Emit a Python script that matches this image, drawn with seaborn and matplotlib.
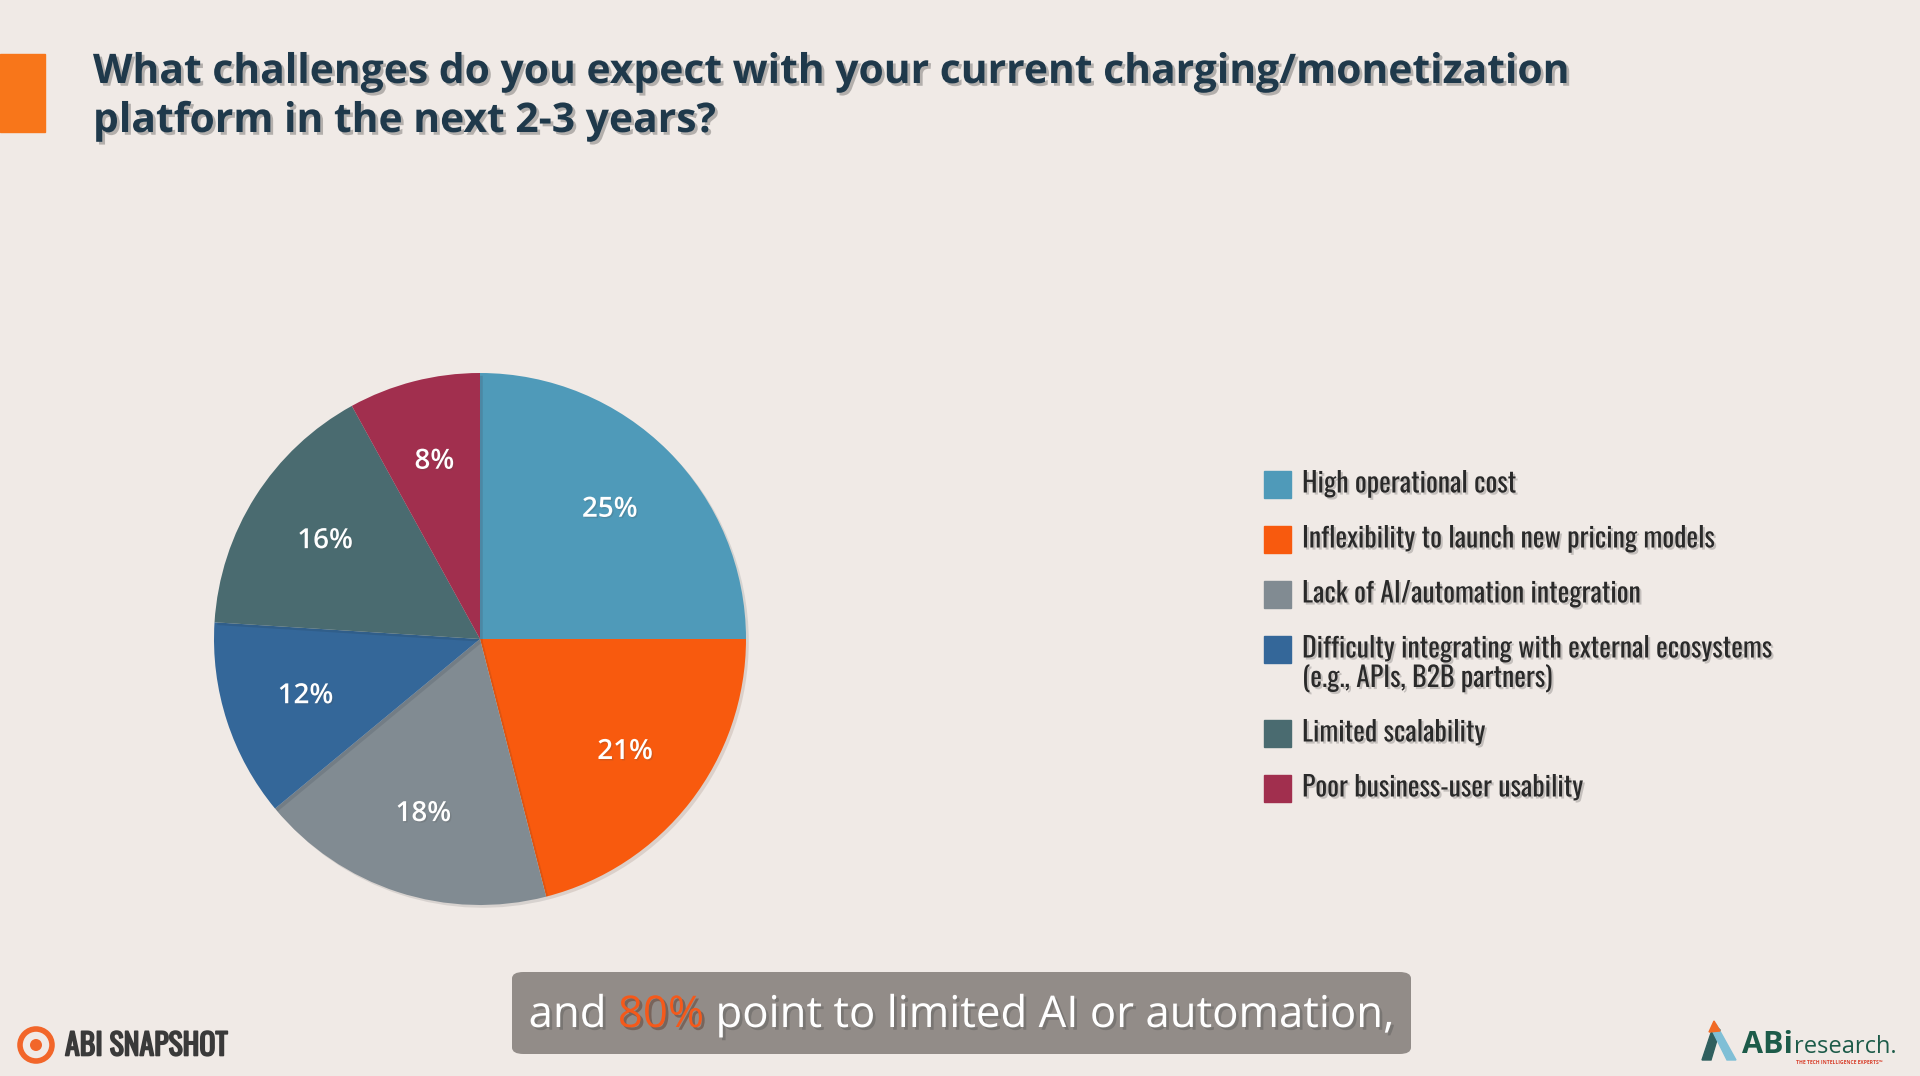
import matplotlib
matplotlib.use("Agg")
import matplotlib.pyplot as plt
import matplotlib.patches as mpatches
import matplotlib.patheffects as pe
import seaborn as sns

# survey answers (share of respondents, %)
categories = [
    "High operational cost",
    "Inflexibility to launch new pricing models",
    "Lack of AI/automation integration",
    "Difficulty integrating with external ecosystems\n(e.g., APIs, B2B partners)",
    "Limited scalability",
    "Poor business-user usability",
]
shares = [25, 21, 18, 12, 16, 8]
slice_colors = ["#4F9AB9", "#F85A0E", "#818B92", "#346799", "#4A6B70", "#A12F4E"]

title_lines = [
    "What challenges do you expect with your current charging/monetization",
    "platform in the next 2-3 years?",
]
caption_parts = ["and ", "80%", " point to limited AI or automation,"]

W, H = 1920, 1076
BG = "#F0EAE6"

sns.set_theme(style="white", rc={"figure.facecolor": BG, "axes.facecolor": BG})
plt.rcParams["font.family"] = ["Open Sans", "DejaVu Sans"]
palette = sns.color_palette(slice_colors)
COND = ["Oswald", "Open Sans", "DejaVu Sans"]


def fx(x):
    return x / W


def fy(y):
    return 1 - y / H


fig = plt.figure(figsize=(W / 100, H / 100), dpi=100)
fig.patch.set_facecolor(BG)

# orange marker left of the title
fig.patches.append(mpatches.Rectangle((0, fy(132)), fx(45), (132 - 54) / H,
                                      transform=fig.transFigure, color="#F8761A", zorder=2))

shadow = [pe.withSimplePatchShadow(offset=(2, -2), shadow_rgbFace="black", alpha=0.25)]
for i, line in enumerate(title_lines):
    fig.text(fx(93), fy(83 + 49 * i), line, fontsize=29.4, fontweight="bold",
             color="#1F394B", va="baseline", ha="left", path_effects=shadow)

# pie
cx, cy, r = 480, 639, 266
ax = fig.add_axes([fx(cx - r), fy(cy + r), 2 * r / W, 2 * r / H])
wedges, _, autotexts = ax.pie(
    shares, colors=palette, startangle=90, counterclock=False,
    autopct=lambda p: f"{p:.0f}%", pctdistance=0.69,
    wedgeprops={"linewidth": 0},
    textprops={"color": "white", "fontsize": 20, "fontweight": "semibold"},
)
for w in wedges:
    w.set_path_effects([pe.SimplePatchShadow(offset=(2, -2), alpha=0.12), pe.Normal()])
for t in autotexts:
    t.set_path_effects([pe.withSimplePatchShadow(offset=(1, -1), alpha=0.2)])
ax.set_xlim(-1, 1)
ax.set_ylim(-1, 1)
ax.set_axis_off()

# legend drawn as rows of squares + labels
y = 484
leg_shadow = [pe.withSimplePatchShadow(offset=(1.5, -1.5), shadow_rgbFace="black", alpha=0.18)]
for label, col in zip(categories, palette):
    fig.patches.append(mpatches.Rectangle((fx(1264), fy(y + 13.5)), fx(27), 27 / H,
                                          transform=fig.transFigure, color=col))
    lines = label.split("\n")
    for j, ln in enumerate(lines):
        fig.text(fx(1302), fy(y + 30 * j), ln, fontsize=20, color="#2A2A2A",
                 va="center", ha="left", family=COND, path_effects=leg_shadow)
    y += 55 + 29 * (len(lines) - 1)

# caption box
fig.patches.append(mpatches.FancyBboxPatch(
    (fx(512), fy(1054)), fx(1411 - 512), (1054 - 972) / H,
    boxstyle="round,pad=0,rounding_size=0.006", transform=fig.transFigure,
    facecolor="#8D8783", edgecolor="none", alpha=0.95, zorder=3))

renderer = fig.canvas.get_renderer()
cap_colors = ["white", "#F5591A", "white"]
cap_texts = []
for part, col in zip(caption_parts, cap_colors):
    t = fig.text(0, fy(1027), part, fontsize=31.5, color=col, va="baseline", ha="left",
                 zorder=4, path_effects=[pe.withSimplePatchShadow(offset=(2, -2), alpha=0.35)])
    cap_texts.append(t)
widths = [t.get_window_extent(renderer).width for t in cap_texts]
x0 = (512 + 1411) / 2 - sum(widths) / 2
for t, w in zip(cap_texts, widths):
    t.set_x(fx(x0))
    x0 += w

# ABI SNAPSHOT mark, bottom left
fig.patches.append(mpatches.Ellipse((fx(36), fy(1045)), 32 / W, 32 / H, transform=fig.transFigure,
                                    facecolor="none", edgecolor="#F2662A", linewidth=4))
fig.patches.append(mpatches.Ellipse((fx(36), fy(1045)), 12 / W, 12 / H, transform=fig.transFigure,
                                    facecolor="#F2662A", edgecolor="none"))
fig.text(fx(65), fy(1046), "ABI SNAPSHOT", fontsize=21.5, color="#3A3A3A",
         va="center", ha="left", family=COND,
         path_effects=[pe.withStroke(linewidth=1.2, foreground="#3A3A3A")])

# ABI research mark, bottom right
fig.patches.append(mpatches.Polygon([(fx(1702), fy(1060)), (fx(1714), fy(1024)),
                                     (fx(1720), fy(1030)), (fx(1711), fy(1060))],
                                    closed=True, transform=fig.transFigure, color="#2F5F5E"))
fig.patches.append(mpatches.Polygon([(fx(1716), fy(1024)), (fx(1736), fy(1060)),
                                     (fx(1727), fy(1060)), (fx(1712), fy(1030))],
                                    closed=True, transform=fig.transFigure, color="#7FBFD6"))
fig.patches.append(mpatches.Polygon([(fx(1709), fy(1032)), (fx(1714), fy(1021)),
                                     (fx(1720), fy(1031))],
                                    closed=True, transform=fig.transFigure, color="#F26A24"))
t1 = fig.text(fx(1742), fy(1053), "ABi", fontsize=22, fontweight="bold",
              color="#1D5B49", va="baseline", ha="left")
w1 = t1.get_window_extent(renderer).width
fig.text(fx(1742 + w1 + 1), fy(1053), "research.", fontsize=17, color="#1D5B49",
         va="baseline", ha="left")
fig.text(fx(1796), fy(1062), "THE TECH INTELLIGENCE EXPERTS\u2122", fontsize=3.6,
         fontweight="bold", color="#D8402C", va="center", ha="left")

fig.savefig("out.png", dpi=100, facecolor=BG)
